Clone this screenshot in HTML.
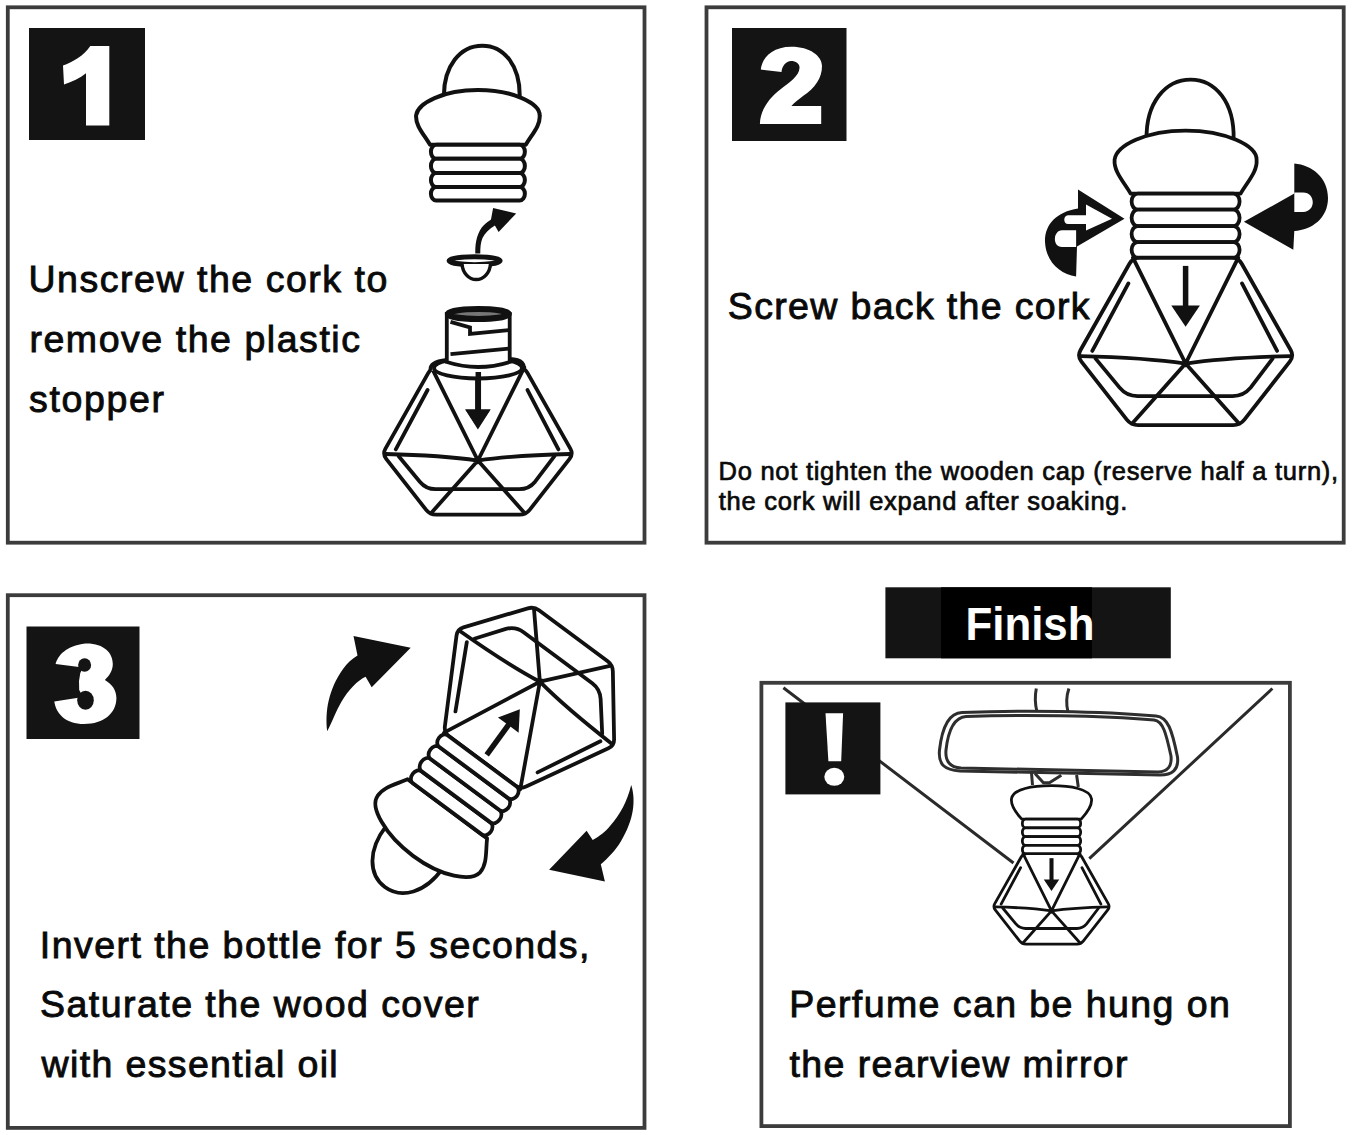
<!DOCTYPE html>
<html><head><meta charset="utf-8">
<style>
html,body{margin:0;padding:0;background:#fff;}
body{width:1353px;height:1135px;overflow:hidden;}
svg{display:block;}
</style></head>
<body>
<svg width="1353" height="1135" viewBox="0 0 1353 1135">
<rect width="1353" height="1135" fill="#fff"/>
<g fill="none" stroke="#3c3c3c" stroke-width="3.8">
<rect x="7.8" y="7.3" width="636.7" height="535.4"/>
<rect x="706.5" y="7.3" width="637.2" height="535.4"/>
<rect x="7.8" y="595.2" width="636.7" height="532.7"/>
<rect x="761.4" y="682.8" width="528.5" height="443.3"/>
</g>
<g transform="translate(477.9 200.5) scale(0.87)">
<path d="M-39 -118 C-40 -155 -20 -178 5 -178 C30 -178 49 -155 48 -118" fill="#fff" stroke="#111" stroke-width="4.597701149425287"/>
<path d="M-55 -64 C-62 -76 -72 -86 -71 -98 C-69 -112 -40 -127 0 -127 C40 -127 71 -112 71 -98 C72 -86 62 -76 55 -64 Z" fill="#fff" stroke="#111" stroke-width="4.597701149425287" stroke-linejoin="round"/>
<rect x="-54" y="-64" width="108" height="16" rx="6" ry="8.0" fill="#fff" stroke="#111" stroke-width="4.597701149425287"/>
<rect x="-54" y="-48" width="108" height="16.5" rx="6" ry="8.25" fill="#fff" stroke="#111" stroke-width="4.597701149425287"/>
<rect x="-54" y="-31.5" width="108" height="16.0" rx="6" ry="8.0" fill="#fff" stroke="#111" stroke-width="4.597701149425287"/>
<rect x="-54" y="-15.5" width="108" height="15.5" rx="6" ry="7.75" fill="#fff" stroke="#111" stroke-width="4.597701149425287"/>
</g>
<path d="M475.3 253.5 C475 243 477 232 484 225 C486 223 489 221 491 219.5 L493.1 208 L516.2 213.5 L498.6 232 L494.9 225.5 C489 229 485 233 482.5 238 C480.5 243 480.3 248 480.3 253.5 Z" fill="#111"/>
<ellipse cx="474.6" cy="260.7" rx="25.5" ry="4" fill="#fff" stroke="#111" stroke-width="5"/>
<path d="M462 264 A14.3 17 0 0 0 490.5 264" fill="#fff" stroke="#111" stroke-width="3.5"/>
<g transform="translate(477.9 367.3) scale(0.88)">
<path d="M-56.15 6.09 Q-52.70 0.00 -45.70 0.00 L45.70 0.00 Q52.70 0.00 56.15 6.09 L105.05 92.41 Q108.50 98.50 104.19 104.01 L58.81 161.99 Q54.50 167.50 47.50 167.50 L-47.50 167.50 Q-54.50 167.50 -58.81 161.99 L-104.19 104.01 Q-108.50 98.50 -105.05 92.41 Z" fill="#fff" stroke="#111" stroke-width="4.318181818181818" stroke-linejoin="round"/>
<path d="M-52.7 0 L0 106 L52.7 0 M-105 98.5 Q-40 100 0 106 Q40 100 105 98.5 M0 106 L-52.5 165 M0 106 L52.5 165" fill="none" stroke="#111" stroke-width="4.318181818181818" stroke-linecap="round"/>
<path d="M-57.2 25.8 L-93.3 93.3 M56.4 25.8 L91.5 93.3" fill="none" stroke="#111" stroke-width="4.318181818181818" stroke-linecap="round"/>
<path d="M-90 101 L-66 130 Q-59 138.5 -48 138.5 L47 138.5 Q58 138.5 65 130 L87 101" fill="none" stroke="#111" stroke-width="4.318181818181818" stroke-linecap="round" stroke-linejoin="round"/>
<path d="M0 8.3 L0 50" stroke="#111" stroke-width="6.261363636363637"/>
<path d="M-14.3 48 L14.3 48 L0 69.2 Z" fill="#111"/>
</g>
<g fill="#fff" stroke="#111" stroke-width="3.8">
<path d="M431 371 Q428 362 446.8 360 L509.7 359 Q528 360 522 371"/>
<ellipse cx="478" cy="368" rx="44" ry="10.5"/>
<path d="M446.8 314 L446.8 362 Q478 372 509.7 362 L509.7 314 Z"/>
<ellipse cx="478.3" cy="314" rx="30.5" ry="5" stroke-width="6" fill="#777"/>
<path d="M450.5 321.8 L470 327.4 L470 333.9 L508.8 330.2 M450.5 354.2 L508.8 348.7" fill="none"/>
</g>
<path d="M478.3 372 L478.3 412" stroke="#111" stroke-width="5.5"/><path d="M465.2 409.5 L490.6 409.5 L477.9 429.6 Z" fill="#111"/>
<g transform="translate(1185.6 257.6)">
<path d="M-56.15 6.09 Q-52.70 0.00 -45.70 0.00 L45.70 0.00 Q52.70 0.00 56.15 6.09 L105.05 92.41 Q108.50 98.50 104.19 104.01 L58.81 161.99 Q54.50 167.50 47.50 167.50 L-47.50 167.50 Q-54.50 167.50 -58.81 161.99 L-104.19 104.01 Q-108.50 98.50 -105.05 92.41 Z" fill="#fff" stroke="#111" stroke-width="3.8" stroke-linejoin="round"/>
<path d="M-52.7 0 L0 106 L52.7 0 M-105 98.5 Q-40 100 0 106 Q40 100 105 98.5 M0 106 L-52.5 165 M0 106 L52.5 165" fill="none" stroke="#111" stroke-width="3.8" stroke-linecap="round"/>
<path d="M-57.2 25.8 L-93.3 93.3 M56.4 25.8 L91.5 93.3" fill="none" stroke="#111" stroke-width="3.8" stroke-linecap="round"/>
<path d="M-90 101 L-66 130 Q-59 138.5 -48 138.5 L47 138.5 Q58 138.5 65 130 L87 101" fill="none" stroke="#111" stroke-width="3.8" stroke-linecap="round" stroke-linejoin="round"/>
<path d="M0 8.3 L0 50" stroke="#111" stroke-width="5.51"/>
<path d="M-14.3 48 L14.3 48 L0 69.2 Z" fill="#111"/>
<path d="M-39 -118 C-40 -155 -20 -178 5 -178 C30 -178 49 -155 48 -118" fill="#fff" stroke="#111" stroke-width="3.8"/>
<path d="M-55 -64 C-62 -76 -72 -86 -71 -98 C-69 -112 -40 -127 0 -127 C40 -127 71 -112 71 -98 C72 -86 62 -76 55 -64 Z" fill="#fff" stroke="#111" stroke-width="3.8" stroke-linejoin="round"/>
<rect x="-54" y="-64" width="108" height="16" rx="6" ry="8.0" fill="#fff" stroke="#111" stroke-width="3.8"/>
<rect x="-54" y="-48" width="108" height="16.5" rx="6" ry="8.25" fill="#fff" stroke="#111" stroke-width="3.8"/>
<rect x="-54" y="-31.5" width="108" height="16.0" rx="6" ry="8.0" fill="#fff" stroke="#111" stroke-width="3.8"/>
<rect x="-54" y="-15.5" width="108" height="15.5" rx="6" ry="7.75" fill="#fff" stroke="#111" stroke-width="3.8"/>
</g>
<g fill="#111">
<path d="M1078 189.5 L1124.5 218.7 L1077 246.5 L1076.1 276.5 C1060 274 1046 262 1045 242 C1044.5 225 1056 212 1078 208.5 Z"/>
<path d="M1294.3 163.6 C1312 165 1328 178 1328 198 C1328 218 1312 230 1294.3 231 L1293.3 249.8 L1243.9 221.7 L1294.3 193.6 Z"/>
</g>
<g fill="#fff">
<path d="M1086 204.5 L1112 218.7 L1086 230.5 Z"/>
<path d="M1087 215.2 L1068 215.2 C1063 215.2 1063 224 1068 224 L1087 224 Z"/>
<path d="M1076.1 230.2 L1062 230.2 C1053 230.2 1052 247 1062 247 L1076.1 247 Z"/>
<path d="M1294.3 192.6 L1303 192.6 C1316 192.6 1316 212 1303 212 L1294.3 212 Z"/>
</g>
<g transform="matrix(-0.7229 -0.5369 0.5443 -0.7474 482.17 760.97)">
<path d="M-56.15 6.09 Q-52.70 0.00 -45.70 0.00 L45.70 0.00 Q52.70 0.00 56.15 6.09 L105.05 92.41 Q108.50 98.50 104.19 104.01 L58.81 161.99 Q54.50 167.50 47.50 167.50 L-47.50 167.50 Q-54.50 167.50 -58.81 161.99 L-104.19 104.01 Q-108.50 98.50 -105.05 92.41 Z" fill="#fff" stroke="#111" stroke-width="4.175824175824175" stroke-linejoin="round"/>
<path d="M-52.7 0 L0 106 L52.7 0 M-105 98.5 Q-40 100 0 106 Q40 100 105 98.5 M0 106 L-52.5 165 M0 106 L52.5 165" fill="none" stroke="#111" stroke-width="4.175824175824175" stroke-linecap="round"/>
<path d="M-57.2 25.8 L-93.3 93.3 M56.4 25.8 L91.5 93.3" fill="none" stroke="#111" stroke-width="4.175824175824175" stroke-linecap="round"/>
<path d="M-90 101 L-66 130 Q-59 138.5 -48 138.5 L47 138.5 Q58 138.5 65 130 L87 101" fill="none" stroke="#111" stroke-width="4.175824175824175" stroke-linecap="round" stroke-linejoin="round"/>
<path d="M0 8.3 L0 50" stroke="#111" stroke-width="6.054945054945054"/>
<path d="M-14.3 48 L14.3 48 L0 69.2 Z" fill="#111"/>
<path d="M-39 -118 C-40 -155 -20 -178 5 -178 C30 -178 49 -155 48 -118" fill="#fff" stroke="#111" stroke-width="4.639804639804639" transform="translate(4.5 -120) scale(0.9) translate(-4.5 120)"/>
<path d="M-55 -64 C-62 -76 -72 -86 -71 -98 C-69 -112 -40 -127 0 -127 C40 -127 71 -112 71 -98 C72 -86 62 -76 55 -64 Z" fill="#fff" stroke="#111" stroke-width="4.175824175824175" stroke-linejoin="round"/>
<rect x="-54" y="-64" width="108" height="16" rx="6" ry="8.0" fill="#fff" stroke="#111" stroke-width="4.175824175824175"/>
<rect x="-54" y="-48" width="108" height="16.5" rx="6" ry="8.25" fill="#fff" stroke="#111" stroke-width="4.175824175824175"/>
<rect x="-54" y="-31.5" width="108" height="16.0" rx="6" ry="8.0" fill="#fff" stroke="#111" stroke-width="4.175824175824175"/>
<rect x="-54" y="-15.5" width="108" height="15.5" rx="6" ry="7.75" fill="#fff" stroke="#111" stroke-width="4.175824175824175"/>
</g>
<g fill="#111">
<path d="M327.2 731.3 C325 712 328 690 343.4 668.6 C347 663 352 659 357.5 655.4 L353.5 636.1 L410.7 647.8 L371.7 687.3 L365.6 676.7 C358 680 348 690 341.3 702 C336 711 333 720 327.2 731.3 Z"/>
<path d="M631.2 785.1 C636 800 634 820 621.1 840.9 C615 851 608 858 600.8 864.2 L604.9 881.4 L549.1 869.8 L586.6 830.7 L592.7 839.9 C600 836 605 832 610 826 C620 815 627 802 631.2 785.1 Z"/>
</g>
<path d="M783.4 687.7 L1013.5 863 M1272.4 688.5 L1089.3 858.7" stroke="#2a2a2a" stroke-width="3" fill="none"/>
<g fill="#fff" stroke="#2e2e2e" stroke-width="3">
<path d="M1036.3 688.5 Q1034 700 1037 712 M1068.9 688.5 Q1065 700 1068 712" fill="none"/>
<path d="M962 712.5 C1020 710 1100 711 1156 716 C1168 717 1172 730 1177.5 757 C1179 770 1172 775 1160 775 L960 771 C945 770 938 765 939.5 750 C942 728 948 713 962 712.5 Z"/>
<path d="M966 716.5 C1020 714.5 1100 715.5 1154 720 C1163 721 1166 733 1171 756 C1172 766 1168 771.5 1158 772 L961 768 C950 767.5 945 761 946 750 C948 732 953 717.5 966 716.5 Z" fill="none"/>
<path d="M1031.5 773 L1032.5 785 M1076.6 775 L1078.3 787 M1035 773.5 L1043.4 782.8 L1049.4 782.8 L1061.3 775.2" fill="none"/>
</g>
<g transform="translate(1051.5 853.7) scale(0.54)">
<path d="M-56.15 6.09 Q-52.70 0.00 -45.70 0.00 L45.70 0.00 Q52.70 0.00 56.15 6.09 L105.05 92.41 Q108.50 98.50 104.19 104.01 L58.81 161.99 Q54.50 167.50 47.50 167.50 L-47.50 167.50 Q-54.50 167.50 -58.81 161.99 L-104.19 104.01 Q-108.50 98.50 -105.05 92.41 Z" fill="#fff" stroke="#111" stroke-width="5.185185185185184" stroke-linejoin="round"/>
<path d="M-52.7 0 L0 106 L52.7 0 M-105 98.5 Q-40 100 0 106 Q40 100 105 98.5 M0 106 L-52.5 165 M0 106 L52.5 165" fill="none" stroke="#111" stroke-width="5.185185185185184" stroke-linecap="round"/>
<path d="M-57.2 25.8 L-93.3 93.3 M56.4 25.8 L91.5 93.3" fill="none" stroke="#111" stroke-width="5.185185185185184" stroke-linecap="round"/>
<path d="M-90 101 L-66 130 Q-59 138.5 -48 138.5 L47 138.5 Q58 138.5 65 130 L87 101" fill="none" stroke="#111" stroke-width="5.185185185185184" stroke-linecap="round" stroke-linejoin="round"/>
<path d="M0 8.3 L0 50" stroke="#111" stroke-width="7.518518518518517"/>
<path d="M-14.3 48 L14.3 48 L0 69.2 Z" fill="#111"/>
<path d="M-55 -64 C-68 -78 -76 -90 -74 -102 C-71 -120 -35 -126 0 -126 C35 -126 71 -120 74 -102 C76 -90 68 -78 55 -64 Z" fill="#fff" stroke="#111" stroke-width="5.185185185185184" stroke-linejoin="round"/>
<rect x="-54" y="-64" width="108" height="16" rx="6" ry="8.0" fill="#fff" stroke="#111" stroke-width="5.185185185185184"/>
<rect x="-54" y="-48" width="108" height="16.5" rx="6" ry="8.25" fill="#fff" stroke="#111" stroke-width="5.185185185185184"/>
<rect x="-54" y="-31.5" width="108" height="16.0" rx="6" ry="8.0" fill="#fff" stroke="#111" stroke-width="5.185185185185184"/>
<rect x="-54" y="-15.5" width="108" height="15.5" rx="6" ry="7.75" fill="#fff" stroke="#111" stroke-width="5.185185185185184"/>
</g>
<rect x="29" y="28" width="116" height="112" fill="#141414"/>
<rect x="732" y="28" width="114.5" height="113" fill="#141414"/>
<rect x="26.5" y="626.5" width="113" height="112.5" fill="#141414"/>
<rect x="785.4" y="702.4" width="95" height="92" fill="#141414"/>
<path d="M825.5 713.2 L843.1 713.2 L841.2 761.2 L828.4 761.2 Z" fill="#fff"/><ellipse cx="834.3" cy="776.8" rx="10" ry="9" fill="#fff"/>
<rect x="885.4" y="587.3" width="285.4" height="71" fill="#141414"/>
<rect x="941" y="587.3" width="151" height="71" fill="#000"/>
<g style="font-family:'Liberation Sans',sans-serif">
</g>
<g fill="#fff">
<path d="M90.3 46 L109.3 46 L109.3 125.5 L86 125.5 L86 73.3 C80 78 72 82 64 84.6 L63 65.6 C72 62 84 56 90.3 46 Z"/>
<path d="M760.8 69.5 C762 58 772 46.7 791.4 46.7 C810 46.7 822 56 822 66 C822 78 815 88 803 96 C798 100 795 102 791.4 105.9 L821.2 105.9 L821.2 124.1 L759.9 124.1 C760 110 770 97 780.6 89.3 C790 82 799 76 799.5 68 C800 64 796 61 791 61 C786 61 782 66 781.5 72 Z"/>
<path d="M55.6 664.1 C58 655 66 646 85.5 643.4 C104 643 113 653 112.8 664.1 C112.8 671 109 676 104.9 679.9 C112 684 116.4 690 116.4 698 C116.4 713 104 724 84 724 C66 724 56 714 54.3 701.5 L83 697 L79.2 690 L79 681 L80.3 673 L83 667.5 Z"/>
</g>
<g fill="#141414">
<ellipse cx="84.6" cy="665" rx="6.5" ry="6.8"/>
<ellipse cx="85.5" cy="700.2" rx="8.3" ry="9.5"/>
</g>
<g style="font-family:'Liberation Sans',sans-serif">
<text x="965.5" y="640" font-size="47" font-weight="bold" fill="#fff" textLength="129" lengthAdjust="spacingAndGlyphs">Finish</text>
</g>
<g style="font-family:'Liberation Sans',sans-serif" fill="#0a0a0a">
<text x="28.40" y="292.3" font-size="37.5" textLength="359.00" lengthAdjust="spacing" stroke="#0a0a0a" stroke-width="0.9">Unscrew the cork to</text>
<text x="29.40" y="352.4" font-size="37.5" textLength="330.60" lengthAdjust="spacing" stroke="#0a0a0a" stroke-width="0.9">remove the plastic</text>
<text x="29.00" y="412" font-size="37.5" textLength="135.10" lengthAdjust="spacing" stroke="#0a0a0a" stroke-width="0.9">stopper</text>
<text x="727.80" y="319.3" font-size="37.5" textLength="361.80" lengthAdjust="spacing" stroke="#0a0a0a" stroke-width="0.9">Screw back the cork</text>
<text x="39.80" y="957.5" font-size="37.5" textLength="549.70" lengthAdjust="spacing" stroke="#0a0a0a" stroke-width="0.9">Invert the bottle for 5 seconds,</text>
<text x="40.00" y="1017.1" font-size="37.5" textLength="438.70" lengthAdjust="spacing" stroke="#0a0a0a" stroke-width="0.9">Saturate the wood cover</text>
<text x="41.60" y="1077.2" font-size="37.5" textLength="296.10" lengthAdjust="spacing" stroke="#0a0a0a" stroke-width="0.9">with essential oil</text>
<text x="789.20" y="1017.3" font-size="37.5" textLength="440.60" lengthAdjust="spacing" stroke="#0a0a0a" stroke-width="0.9">Perfume can be hung on</text>
<text x="789.40" y="1077" font-size="37.5" textLength="338.20" lengthAdjust="spacing" stroke="#0a0a0a" stroke-width="0.9">the rearview mirror</text>
<text x="718.60" y="480.4" font-size="25.5" textLength="619.50" lengthAdjust="spacing" stroke="#0a0a0a" stroke-width="0.7">Do not tighten the wooden cap (reserve half a turn),</text>
<text x="718.80" y="510.3" font-size="25.5" textLength="408.50" lengthAdjust="spacing" stroke="#0a0a0a" stroke-width="0.7">the cork will expand after soaking.</text>
</g>
</svg>
</body></html>
